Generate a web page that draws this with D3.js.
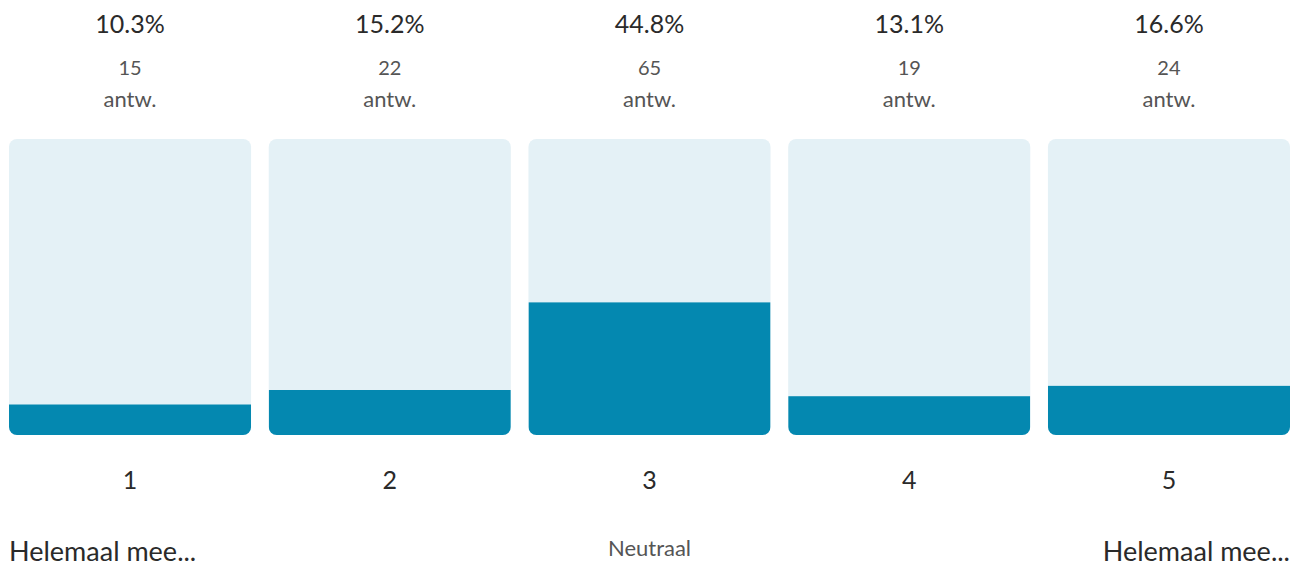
<!DOCTYPE html>
<html>
<head>
<meta charset="utf-8">
<script src="https://cdn.jsdelivr.net/npm/d3@7"></script>
<style>
  body { margin: 0; background: #fff; }
  svg { display: block; font-family: Lato, "Open Sans", sans-serif; }
</style>
</head>
<body>
<svg id="chart" width="1302" height="567"></svg>
<script>
(() => {

// data
var categories = ["1", "2", "3", "4", "5"];
var percentages = [10.3, 15.2, 44.8, 13.1, 16.6];
var counts = [15, 22, 65, 19, 24];
var countLabel = "antw.";
var scaleLabels = ["Helemaal mee...", "Neutraal", "Helemaal mee..."];

var svg = d3.select("#chart"),
    margin = {left: 9, right: 12},
    width = +svg.attr("width"),
    trackTop = 139,
    trackBottom = 435,
    radius = 8;

var x = d3.scaleBand()
    .domain(categories)
    .range([margin.left, width - margin.right])
    .paddingInner(0.068)
    .paddingOuter(0);

var y = d3.scaleLinear()
    .domain([0, 100])
    .range([trackBottom, trackTop]);

var data = categories.map(function(c, i) {
  return {cat: c, pct: percentages[i], n: counts[i]};
});

// clip each column to a rounded rectangle so the fill keeps the bottom corners
var defs = svg.append("defs");
defs.selectAll("clipPath")
  .data(data)
  .enter().append("clipPath")
    .attr("id", function(d, i) { return "clip" + i; })
  .append("rect")
    .attr("x", function(d) { return x(d.cat); })
    .attr("y", y(100))
    .attr("width", x.bandwidth())
    .attr("height", y(0) - y(100))
    .attr("rx", radius);

var col = svg.append("g")
  .selectAll("g")
  .data(data)
  .enter().append("g");

col.append("rect")
    .attr("x", function(d) { return x(d.cat); })
    .attr("y", y(100))
    .attr("width", x.bandwidth())
    .attr("height", y(0) - y(100))
    .attr("rx", radius)
    .attr("fill", "#e4f1f6");

col.append("rect")
    .attr("clip-path", function(d, i) { return "url(#clip" + i + ")"; })
    .attr("x", function(d) { return x(d.cat); })
    .attr("y", function(d) { return y(d.pct); })
    .attr("width", x.bandwidth())
    .attr("height", function(d) { return y(0) - y(d.pct); })
    .attr("fill", "#0488b0");

var cx = function(d) { return x(d.cat) + x.bandwidth() / 2; };

col.append("text")
    .attr("x", cx)
    .attr("y", 33)
    .attr("text-anchor", "middle")
    .attr("font-size", 25)
    .attr("fill", "#2a2a2a")
    .text(function(d) { return d.pct.toFixed(1) + "%"; });

col.append("text")
    .attr("x", cx)
    .attr("y", 75)
    .attr("text-anchor", "middle")
    .attr("font-size", 20)
    .attr("fill", "#555")
    .text(function(d) { return d.n; });

col.append("text")
    .attr("x", cx)
    .attr("y", 107)
    .attr("text-anchor", "middle")
    .attr("font-size", 22)
    .attr("fill", "#555")
    .text(countLabel);

col.append("text")
    .attr("x", cx)
    .attr("y", 489)
    .attr("text-anchor", "middle")
    .attr("font-size", 25)
    .attr("fill", "#2a2a2a")
    .text(function(d) { return d.cat; });

// scale end labels
var range = x.range();
svg.append("text")
    .attr("x", range[0])
    .attr("y", 561)
    .attr("font-size", 27)
    .attr("fill", "#2a2a2a")
    .text(scaleLabels[0]);

svg.append("text")
    .attr("x", cx(data[2]))
    .attr("y", 556)
    .attr("text-anchor", "middle")
    .attr("font-size", 22)
    .attr("fill", "#555")
    .text(scaleLabels[1]);

svg.append("text")
    .attr("x", range[1])
    .attr("y", 561)
    .attr("text-anchor", "end")
    .attr("font-size", 27)
    .attr("fill", "#2a2a2a")
    .text(scaleLabels[2]);

})();
</script>
</body>
</html>
